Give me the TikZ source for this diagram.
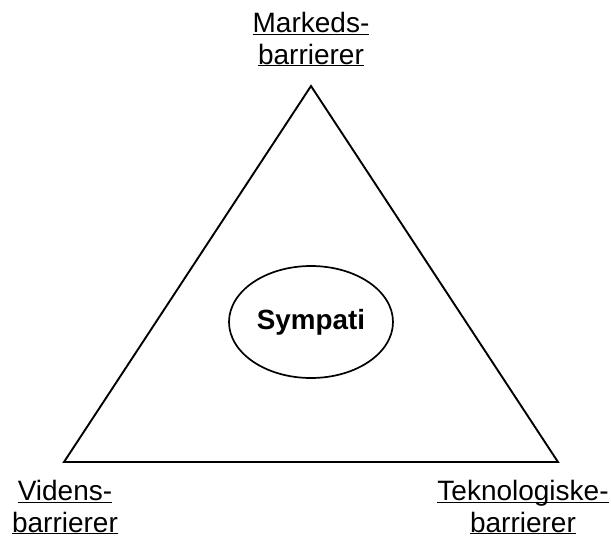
\documentclass[tikz,border=0pt]{standalone}
\usepackage{fontspec}
\setmainfont{Liberation Sans}
\usetikzlibrary{shapes.geometric}
\newcommand\myul[1]{\underline{\raisebox{0pt}[\height][0pt]{#1}}}
\tikzset{
  lbl/.style={inner sep=0pt, align=center, font=\fontsize{28}{31.5}\selectfont},
  edge/.style={line width=1.9pt, line join=miter},
}
\begin{document}
\begin{tikzpicture}[x=1pt,y=-1pt]
\useasboundingbox (0,0) rectangle (611,539);
\coordinate (top) at (311,86);
\coordinate (bl) at (64,462);
\coordinate (br) at (558,462);
\draw[edge] (top) -- (bl) -- (br) -- cycle;
\node[ellipse, draw, line width=1.7pt, minimum width=164pt, minimum height=112pt, inner sep=0pt,
      font=\fontsize{27.8}{30}\selectfont\bfseries] (sym) at (311,322) {Sympati};
\node[lbl, anchor=base] (mb) at (311,64) {\myul{Markeds-}\\\myul{barrierer}};
\node[lbl, anchor=base] (vb) at (65,532) {\myul{Videns-}\\\myul{barrierer}};
\node[lbl, anchor=base] (tb) at (523,532) {\myul{Teknologiske-}\\\myul{barrierer}};
\end{tikzpicture}
\end{document}
